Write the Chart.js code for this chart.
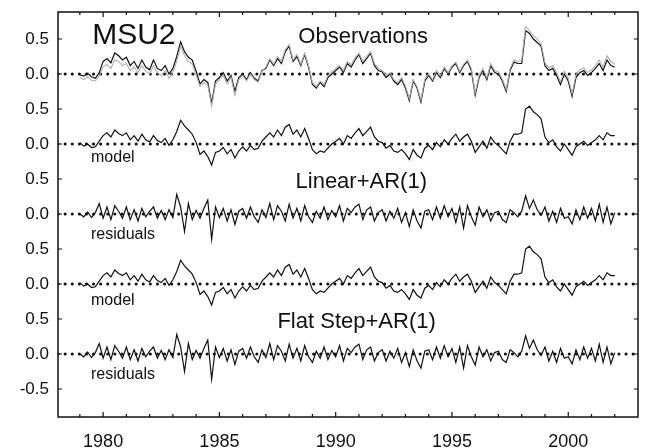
<!DOCTYPE html>
<html>
<head>
<meta charset="utf-8">
<script src="https://cdn.jsdelivr.net/npm/chart.js@4/dist/chart.umd.min.js"></script>
<style>
    html, body { margin: 0; padding: 0; background: #fff; }
    #wrap { width: 645px; height: 448px; }
</style>
</head>
<body>
<div id="wrap"><canvas id="chart-msu2"></canvas></div>
<script>
// bimonthly samples, 1979.0 .. 2002.0
const START_YEAR = 1979
const STEPS_PER_YEAR = 6

// observed anomalies (black trace)
const obsBlack = [
    -0.01, -0.03, 0.01, -0.04, -0.06, 0.02,
    0.18, 0.22, 0.16, 0.30, 0.26, 0.20,
    0.24, 0.12, 0.18, 0.08, 0.20, 0.10,
    0.06, 0.20, 0.08, 0.05, 0.12, 0.00,
    0.08, 0.25, 0.46, 0.32, 0.24, 0.20,
    0.04, -0.14, -0.08, -0.12, -0.42, -0.10,
    -0.05, 0.02, -0.10, -0.02, -0.25, -0.05,
    0.00, -0.08, 0.02, -0.06, -0.10, 0.05,
    0.08, 0.20, 0.12, 0.22, 0.15, 0.32,
    0.40, 0.18, 0.25, 0.12, 0.28, 0.10,
    -0.15, -0.20, -0.12, -0.18, -0.05, 0.00,
    0.05, 0.10, 0.02, 0.15, 0.10, 0.20,
    0.28, 0.15, 0.22, 0.30, 0.12, 0.05,
    0.03, -0.05, 0.00, -0.10, -0.15, -0.08,
    -0.20, -0.38, -0.10, -0.20, -0.40, -0.10,
    -0.02, -0.10, 0.02, -0.05, 0.08, 0.00,
    0.10, 0.15, 0.02, 0.12, 0.18, 0.05,
    -0.30, -0.05, 0.05, -0.08, 0.12, 0.02,
    0.00, -0.10, -0.25, 0.05, 0.17, 0.15,
    0.15, 0.62, 0.58, 0.50, 0.45, 0.40,
    0.12, 0.05, 0.08, -0.02, -0.15, 0.00,
    -0.10, -0.32, -0.05, 0.02, 0.05, -0.02,
    0.02, 0.08, 0.15, 0.05, 0.20, 0.12,
    0.10,
]

// second observed record (grey trace)
const obsGrey = [
    -0.05, -0.08, -0.04, -0.09, -0.10, -0.03,
    0.10, 0.14, 0.08, 0.20, 0.18, 0.12,
    0.15, 0.05, 0.10, 0.02, 0.12, 0.04,
    0.00, 0.12, 0.02, -0.02, 0.05, -0.06,
    0.02, 0.18, 0.40, 0.26, 0.18, 0.14,
    -0.02, -0.18, -0.12, -0.16, -0.46, -0.14,
    -0.08, -0.02, -0.14, -0.05, -0.30, -0.08,
    -0.02, -0.10, 0.00, -0.08, -0.12, 0.04,
    0.10, 0.22, 0.14, 0.25, 0.18, 0.35,
    0.42, 0.20, 0.28, 0.14, 0.30, 0.12,
    -0.12, -0.18, -0.10, -0.15, -0.02, 0.03,
    0.08, 0.12, 0.05, 0.18, 0.13, 0.23,
    0.30, 0.18, 0.25, 0.32, 0.15, 0.08,
    0.05, -0.02, 0.02, -0.08, -0.12, -0.05,
    -0.17, -0.35, -0.08, -0.18, -0.37, -0.07,
    0.00, -0.08, 0.05, -0.02, 0.10, 0.02,
    0.12, 0.17, 0.04, 0.14, 0.20, 0.08,
    -0.27, -0.02, 0.08, -0.05, 0.15, 0.05,
    0.03, -0.07, -0.22, 0.08, 0.20, 0.18,
    0.20, 0.68, 0.62, 0.55, 0.50, 0.44,
    0.16, 0.09, 0.12, 0.02, -0.11, 0.04,
    -0.06, -0.28, -0.01, 0.06, 0.09, 0.02,
    0.06, 0.12, 0.20, 0.10, 0.26, 0.18,
    0.14,
]

// fitted model (same curve shown for both fits)
const modelFit = [
    0.02, -0.03, 0.00, -0.05, -0.04, 0.04,
    0.12, 0.16, 0.10, 0.20, 0.15, 0.12,
    0.16, 0.06, 0.12, 0.04, 0.14, 0.06,
    0.03, 0.12, 0.05, 0.02, 0.08, -0.02,
    0.06, 0.18, 0.34, 0.26, 0.20, 0.14,
    0.02, -0.15, -0.10, -0.18, -0.30, -0.12,
    -0.10, -0.05, -0.14, -0.08, -0.20, -0.10,
    -0.04, -0.10, -0.02, -0.08, -0.06, 0.04,
    0.10, 0.16, 0.10, 0.20, 0.12, 0.24,
    0.28, 0.14, 0.20, 0.10, 0.22, 0.08,
    -0.08, -0.14, -0.10, -0.12, -0.06, 0.00,
    0.04, 0.08, 0.00, 0.12, 0.08, 0.16,
    0.22, 0.12, 0.18, 0.24, 0.10, 0.04,
    0.02, -0.06, -0.02, -0.10, -0.12, -0.08,
    -0.14, -0.22, -0.08, -0.16, -0.20, -0.06,
    -0.02, -0.08, 0.02, -0.04, 0.06, 0.00,
    0.08, 0.14, 0.04, 0.10, 0.14, 0.04,
    -0.12, -0.04, 0.04, -0.06, 0.10, 0.02,
    -0.02, -0.08, -0.14, 0.04, 0.14, 0.14,
    0.16, 0.50, 0.54, 0.46, 0.42, 0.36,
    0.10, 0.02, 0.06, -0.04, -0.10, 0.00,
    -0.08, -0.16, -0.04, 0.00, 0.04, -0.02,
    0.02, 0.06, 0.12, 0.06, 0.16, 0.12,
    0.12,
]

// residuals (obs - model)
const residuals = [
    0.00, -0.04, 0.03, -0.05, 0.02, 0.15,
    -0.06, 0.10, -0.08, 0.12, 0.04, -0.06,
    0.10, -0.08, 0.06, -0.10, 0.08, -0.04,
    0.04, 0.10, -0.06, 0.05, -0.08, 0.06,
    -0.05, 0.28, 0.10, -0.25, 0.15, -0.08,
    0.05, -0.06, 0.08, 0.20, -0.36, 0.10,
    -0.05, 0.08, -0.10, 0.06, -0.15, 0.04,
    0.08, -0.06, 0.10, -0.04, -0.12, 0.06,
    -0.05, 0.15, -0.08, 0.12, 0.04, -0.10,
    0.14, -0.06, 0.08, -0.10, 0.12, -0.04,
    -0.12, 0.04, -0.06, 0.10, -0.08, 0.05,
    -0.04, 0.12, -0.10, 0.08, 0.02, 0.10,
    0.14, -0.08, 0.06, 0.10, -0.10, 0.02,
    0.06, -0.10, 0.04, -0.06, 0.08, -0.12,
    0.02, -0.18, 0.06, -0.10, -0.20, 0.04,
    0.06, -0.08, 0.10, -0.06, 0.12, -0.04,
    0.08, -0.12, 0.10, -0.20, 0.12, -0.04,
    -0.16, 0.10, -0.04, 0.06, -0.10, 0.02,
    0.04, -0.08, -0.12, 0.06, 0.02, -0.04,
    0.04, 0.26, 0.08, 0.20, 0.06, -0.02,
    0.10, -0.10, 0.04, -0.12, 0.08, -0.06,
    -0.04, -0.14, 0.06, -0.08, 0.10, -0.06,
    0.08, -0.10, 0.14, -0.12, 0.10, -0.14,
    0.02,
]

// panels from top to bottom, each drawn around its own zero line
const PANEL_OFFSETS = [4, 3, 2, 1, 0]
const Y_TICKS = [-0.5, 0, 0.5, 1, 1.5, 2, 2.5, 3, 3.5, 4, 4.5]
const Y_TICK_LABELS = ['-0.5', '0.0', '0.5', '0.0', '0.5', '0.0', '0.5', '0.0', '0.5', '0.0', '0.5']
const X_MIN = 1978.06
const X_MAX = 2003.0
const Y_MIN = -0.9
const Y_MAX = 4.886

const FONT = "'Liberation Sans', Arial, sans-serif"

function toPoints(values, offset) {
    return values.map((v, i) => ({ x: START_YEAR + i / STEPS_PER_YEAR, y: v + offset }))
}

function zeroLine(offset) {
    return {
        data: [{ x: X_MIN, y: offset }, { x: X_MAX, y: offset }],
        borderColor: '#111',
        borderWidth: 3,
        borderDash: [0.1, 7],
        borderCapStyle: 'round',
        pointRadius: 0,
        order: 5,
    }
}

function traceSet(values, offset, color, width) {
    return {
        data: toPoints(values, offset),
        borderColor: color,
        borderWidth: width,
        pointRadius: 0,
        tension: 0,
        order: 1,
    }
}

const datasets = [
    ...PANEL_OFFSETS.map(zeroLine),
    traceSet(obsGrey, PANEL_OFFSETS[0], '#b0b0b0', 1.1),
    traceSet(obsBlack, PANEL_OFFSETS[0], '#111', 1.2),
    traceSet(modelFit, PANEL_OFFSETS[1], '#111', 1.2),
    traceSet(residuals, PANEL_OFFSETS[2], '#111', 1.2),
    traceSet(modelFit, PANEL_OFFSETS[3], '#111', 1.2),
    traceSet(residuals, PANEL_OFFSETS[4], '#111', 1.2),
]

// text labels inside the plot: [text, x(year), y(value), size, align]
const PANEL_TEXT = [
    ['MSU2', 1979.53, 4.54, 30, 'left'],
    ['Observations', 1991.18, 4.53, 22, 'center'],
    ['Linear+AR(1)', 1991.1, 2.46, 22, 'center'],
    ['Flat Step+AR(1)', 1990.9, 0.46, 22, 'center'],
    ['model', 1979.48, 2.81, 16, 'left'],
    ['residuals', 1979.48, 1.71, 16, 'left'],
    ['model', 1979.48, 0.77, 16, 'left'],
    ['residuals', 1979.48, -0.3, 16, 'left'],
]

const frameAndText = {
    id: 'frameAndText',
    afterDraw(chart) {
        const { ctx, chartArea: a, scales } = chart
        const xs = scales.x
        const ys = scales.y
        ctx.save()
        ctx.strokeStyle = '#111'
        ctx.lineWidth = 1.5
        ctx.strokeRect(a.left, a.top, a.right - a.left, a.bottom - a.top)
        ctx.lineWidth = 1.2
        ctx.beginPath()
        xs.ticks.forEach((t) => {
            const px = xs.getPixelForValue(t.value)
            const len = t.value % 5 === 0 ? 5 : 3
            ctx.moveTo(px, a.bottom)
            ctx.lineTo(px, a.bottom - len)
            ctx.moveTo(px, a.top)
            ctx.lineTo(px, a.top + len)
        })
        ys.ticks.forEach((t) => {
            const py = ys.getPixelForValue(t.value)
            ctx.moveTo(a.left, py)
            ctx.lineTo(a.left + 4, py)
            ctx.moveTo(a.right, py)
            ctx.lineTo(a.right - 4, py)
        })
        ctx.stroke()

        ctx.fillStyle = '#111'
        ctx.textBaseline = 'middle'
        PANEL_TEXT.forEach(([text, x, y, size, align]) => {
            ctx.font = size + 'px ' + FONT
            ctx.textAlign = align
            ctx.fillText(text, xs.getPixelForValue(x), ys.getPixelForValue(y))
        })
        ctx.restore()
    },
}

const chartMsu2 = new Chart(document.getElementById('chart-msu2'), {
    type: 'line',
    data: { datasets: datasets },
    options: {
        responsive: true,
        maintainAspectRatio: false,
        animation: false,
        layout: { padding: { top: 12, right: 7, left: 0, bottom: 0 } },
        plugins: {
            legend: { display: false },
            tooltip: { enabled: false },
        },
        scales: {
            x: {
                type: 'linear',
                min: X_MIN,
                max: X_MAX,
                grid: { display: false, drawTicks: false },
                border: { display: false },
                afterBuildTicks: (scale) => {
                    const ticks = []
                    for (let yr = 1979; yr <= 2002; yr++) ticks.push({ value: yr })
                    scale.ticks = ticks
                },
                afterFit: (scale) => {
                    scale.height = 31
                    scale.paddingLeft = 0
                    scale.paddingRight = 0
                },
                ticks: {
                    autoSkip: false,
                    maxRotation: 0,
                    padding: 14,
                    color: '#111',
                    font: { family: FONT, size: 18 },
                    callback: (v) => (v % 5 === 0 ? String(v) : ''),
                },
            },
            y: {
                type: 'linear',
                min: Y_MIN,
                max: Y_MAX,
                grid: { display: false, drawTicks: false },
                border: { display: false },
                afterBuildTicks: (scale) => {
                    scale.ticks = Y_TICKS.map((v) => ({ value: v }))
                },
                afterFit: (scale) => {
                    scale.width = 58
                    scale.paddingTop = 0
                    scale.paddingBottom = 0
                },
                ticks: {
                    padding: 9,
                    color: '#111',
                    font: { family: FONT, size: 17 },
                    callback: (v, i) => Y_TICK_LABELS[i],
                },
            },
        },
    },
    plugins: [frameAndText],
})
</script>
</body>
</html>
